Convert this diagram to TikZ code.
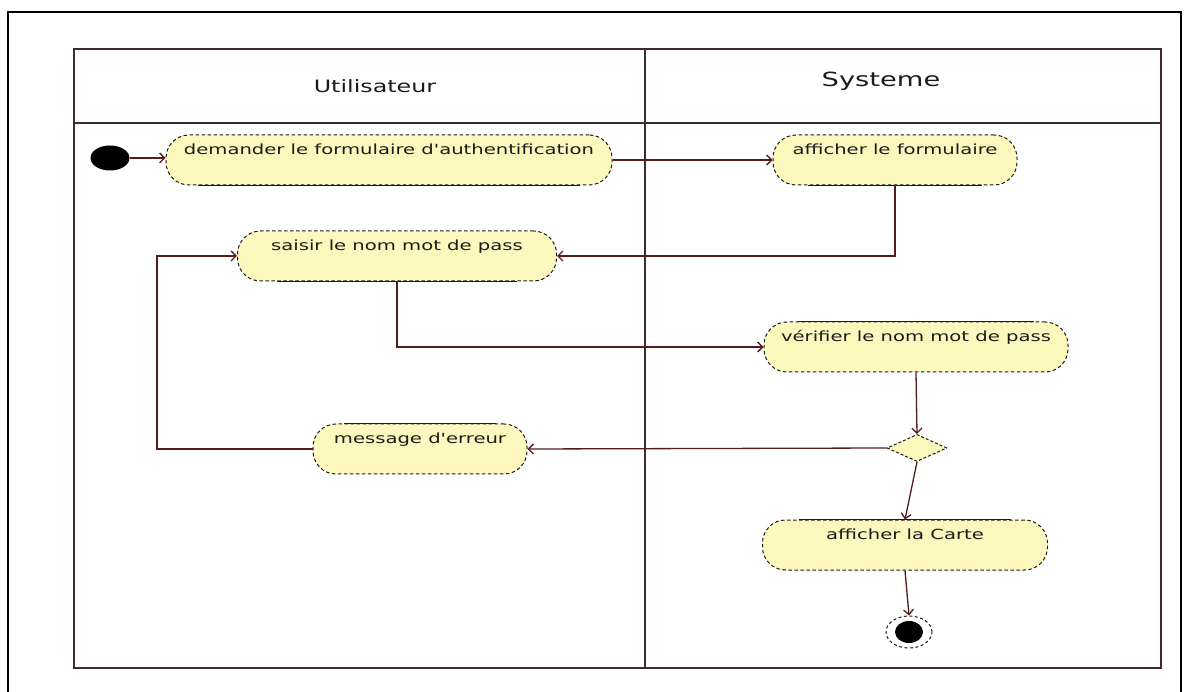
\documentclass[tikz,border=0pt]{standalone}
\usepackage{fontspec}
\usetikzlibrary{shapes.geometric,arrows.meta,calc}
\newfontfamily\actfont[FakeStretch=1.4]{DejaVu Sans}
\definecolor{actfill}{HTML}{FDF8BE}
\definecolor{edgecol}{HTML}{551C1C}
\definecolor{lanecol}{HTML}{3E2C2C}
\definecolor{inkcol}{HTML}{1E1A1A}
\tikzset{
  act/.style={rectangle, rounded corners=23pt, fill=actfill, draw=inkcol,
    dash pattern=on 3.5pt off 2.5pt, line width=1pt,
    minimum height=50pt, inner ysep=0pt, inner xsep=2pt,
    text height=19.5pt, text depth=30.5pt, text=inkcol,
    font=\actfont\fontsize{14}{16}\selectfont},
  rim/.style={draw=inkcol, line width=1.1pt},
  flow/.style={draw=edgecol, line width=1.3pt,
    -{Straight Barb[length=5pt,width=10pt]}},
  lane/.style={draw=lanecol, line width=1.4pt},
  title/.style={text=inkcol, inner sep=0pt}
}
\begin{document}
\begin{tikzpicture}[x=1pt,y=-1pt]
\useasboundingbox (0,0) rectangle (1184,692);
\fill[white] (0,0) rectangle (1184,692);

% page frame
\draw[black, line width=2pt] (8,700) -- (8,12) -- (1181,12) -- (1181,700);

% swimlanes
\draw[lane] (74,49) rectangle (1161,668);
\draw[lane] (74,123) -- (1161,123);
\draw[lane] (645,49) -- (645,668);
\node[title, font=\actfont\fontsize{17}{19}\selectfont] (laneU) at (375,86) {Utilisateur};
\node[title, font=\actfont\fontsize{19.5}{22}\selectfont] (laneS) at (881,81) {Systeme};

% start and end
\node[ellipse, fill=black, minimum width=39pt, minimum height=25pt, inner sep=0pt] (init) at (110,158) {};
\node[ellipse, draw=inkcol, dash pattern=on 3pt off 2.5pt, line width=1pt, fill=white,
      minimum width=46pt, minimum height=32pt, inner sep=0pt] (fin) at (909,632) {};
\node[ellipse, fill=black, minimum width=28pt, minimum height=22pt, inner sep=0pt] (fincore) at (fin) {};

% activities
\node[act, minimum width=446pt] (dem) at (389,160) {demander le formulaire d'authentification};
\node[act, minimum width=244pt] (aff) at (895,160) {afficher le formulaire};
\node[act, minimum width=319pt] (sai) at (397,256) {saisir le nom mot de pass};
\node[act, minimum width=304pt] (ver) at (916,347) {vérifier le nom mot de pass};
\node[act, minimum width=214pt] (msg) at (420,449) {message d'erreur};
\node[act, minimum width=285pt] (carte) at (905,545) {afficher la Carte};

% decision
\node[diamond, aspect=2.2, fill=actfill, draw=inkcol, dash pattern=on 3pt off 2pt,
      line width=1pt, minimum width=60pt, minimum height=27pt, inner sep=0pt] (dec) at (917,448) {};

% solid stretches of the activity borders
\draw[rim] ([xshift=-191]dem.south) -- ([xshift=191]dem.south);
\draw[rim] ([xshift=-87]aff.south) -- ([xshift=87]aff.south);
\draw[rim] ([xshift=-120]sai.south) -- ([xshift=120]sai.south);
\draw[rim] ([xshift=-118]ver.north) -- ([xshift=118]ver.north);
\draw[rim] ([xshift=-76]msg.north) -- ([xshift=76]msg.north);
\draw[rim] ([xshift=-106]carte.north) -- ([xshift=106]carte.north);

% control flow
\coordinate (back) at (157,449);
\draw[flow] (init.east) -- (dem.west |- init.east);
\draw[flow] (dem.east) -- (aff.west);
\draw[flow] (aff.south) |- (sai.east);
\draw[flow] (sai.south) |- (ver.west);
\draw[flow] (ver.south) -- (dec.north);
\draw[flow] (dec.west) -- (msg.east);
\draw[flow] (msg.west) -- (back) |- (sai.west);
\draw[flow] (dec.south) -- (carte.north);
\draw[flow] (carte.south) -- (fin.north);
\end{tikzpicture}
\end{document}
